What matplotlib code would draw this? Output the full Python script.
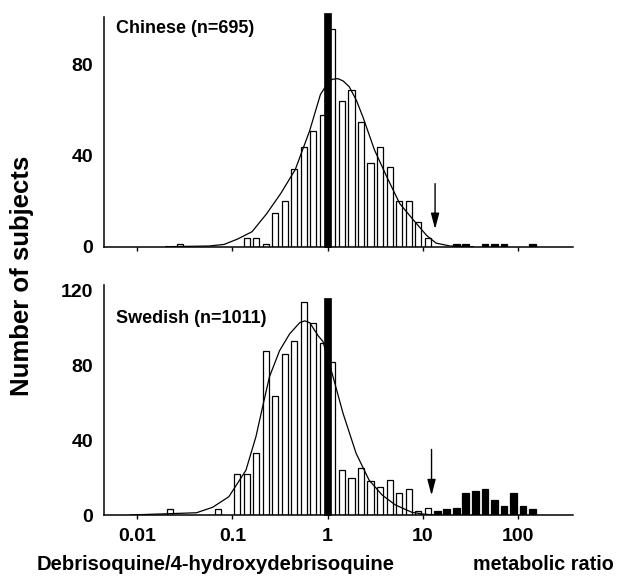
import numpy as np
import matplotlib.pyplot as plt

plt.rcParams['font.family'] = ['Liberation Sans', 'DejaVu Sans']
plt.rcParams['font.weight'] = 'bold'

# bins are 0.1 log10 units wide: bin k is centred on MR = 10**(0.1*k + 0.05)
chinese_k = [-16, -9, -8, -7, -6, -5, -4, -3, -2, -1, 0, 1, 2, 3, 4, 5, 6, 7, 8, 9, 10]
chinese_n = [1, 4, 4, 1, 15, 20, 34, 44, 51, 58, 96, 64, 69, 55, 37, 44, 35, 20, 20, 11, 4]
chinese_pm_k = [13, 14, 16, 17, 18, 21]
chinese_pm_n = [1, 1, 1, 1, 1, 1]
chinese_mode = 103  # black bar at MR = 1 (goes past the top)

swedish_k = [-17, -12, -10, -9, -8, -7, -6, -5, -4, -3, -2, -1, 0, 1, 2, 3, 4, 5, 6, 7, 8, 9, 10]
swedish_n = [3, 3, 22, 22, 33, 88, 64, 86, 93, 114, 103, 92, 82, 24, 20, 25, 18, 15, 19, 12, 14, 2, 4]
swedish_pm_k = [11, 12, 13, 14, 15, 16, 17, 18, 19, 20, 21]
swedish_pm_n = [2, 3, 4, 12, 13, 14, 8, 5, 12, 5, 3]
swedish_mode = 116

# fitted curves
chinese_curve_mr = [0.02, 0.028, 0.057, 0.082, 0.114, 0.161, 0.229, 0.323, 0.458, 0.647,
                    0.84, 1.0, 1.12, 1.28, 1.45, 1.68, 2.0, 2.35, 3.1, 4.15, 5.7, 7.96,
                    10.9, 13.7, 19.2, 33.7]
chinese_curve_n = [0, 0.1, 0.3, 1, 3.4, 6.6, 14.5, 23.5, 34, 51,
                   67, 72, 73.7, 74, 73, 70.5, 64.5, 57, 42.6, 31, 19, 11.7,
                   5, 1.6, 0.3, 0]

swedish_curve_mr = [0.0085, 0.042, 0.062, 0.092, 0.139, 0.177, 0.208, 0.245, 0.313, 0.399,
                    0.509, 0.575, 0.649, 0.795, 0.892, 1.14, 1.45, 1.99, 2.72, 3.73, 5.13,
                    7.6, 10.4, 14.3]
swedish_curve_n = [0, 1.2, 4.1, 9.8, 24, 42, 58, 74, 88, 97,
                   103, 104, 103, 96, 93, 74, 54.5, 33, 18.7, 10.7, 5.4,
                   1.5, 0.4, 0]

antimode_chinese = 13.4
antimode_swedish = 12.3

xticks = [0.01, 0.1, 1, 10, 100]
xtick_labels = ['0.01', '0.1', '1', '10', '100']

W, H = 618, 579
fig = plt.figure(figsize=(W / 100, H / 100), dpi=100)

ax_left = 104.3 / W
ax_w = (573 - 104.3) / W
ax1 = fig.add_axes([ax_left, (H - 246.7) / H, ax_w, (246.7 - 17.3) / H])
ax2 = fig.add_axes([ax_left, (H - 515) / H, ax_w, (515 - 285) / H])


def log_bars(ax, ks, ns, w, color, z):
    c = 0.1 * np.array(ks) + 0.05
    lo = 10 ** (c - w / 2)
    hi = 10 ** (c + w / 2)
    ax.bar(lo, ns, width=hi - lo, align='edge', facecolor=color,
           edgecolor='black', linewidth=0.9, zorder=z)


def mode_bar(ax, h, w=0.072):
    lo = 10 ** (-w / 2)
    hi = 10 ** (w / 2)
    ax.bar(lo, h, width=hi - lo, align='edge', facecolor='black',
           edgecolor='black', linewidth=0.5, zorder=5, clip_on=False)


panels = [
    (ax1, chinese_k, chinese_n, chinese_pm_k, chinese_pm_n, chinese_mode,
     chinese_curve_mr, chinese_curve_n, antimode_chinese, (29, 6.5), 101),
    (ax2, swedish_k, swedish_n, swedish_pm_k, swedish_pm_n, swedish_mode,
     swedish_curve_mr, swedish_curve_n, antimode_swedish, (36.6, 9), 123.2),
]

for ax, k, n, pk, pn, mode, cmr, cn, am, arr, ytop in panels:
    log_bars(ax, k, n, 0.064, 'white', 2)
    log_bars(ax, pk, pn, 0.071, 'black', 2)
    ax.plot(cmr, cn, color='black', linewidth=0.9, zorder=4)
    mode_bar(ax, mode)
    ax.annotate('', xy=(am, arr[1]), xytext=(am, arr[0]),
                arrowprops=dict(arrowstyle='-|>,head_length=0.95,head_width=0.25',
                                color='black', linewidth=1.0, mutation_scale=10))
    ax.set_xscale('log')
    ax.set_xlim(10 ** -2.343, 10 ** 2.574)
    ax.set_ylim(0, ytop)
    ax.set_xticks(xticks)
    ax.minorticks_off()
    ax.spines['top'].set_visible(False)
    ax.spines['right'].set_visible(False)
    ax.spines['left'].set_linewidth(1.1)
    ax.spines['bottom'].set_linewidth(1.1)
    ax.tick_params(axis='x', direction='out', length=3.2, width=1.0, pad=6, labelsize=14)
    ax.tick_params(axis='y', length=0, pad=8, labelsize=14)

ax1.set_xticklabels([])
ax1.set_yticks([0, 40, 80])
ax2.set_xticklabels(xtick_labels)
ax2.set_yticks([0, 40, 80, 120])

fig.text(116 / W, 1 - 33.3 / H, 'Chinese (n=695)', fontsize=13, va='baseline', ha='left')
fig.text(116 / W, 1 - 322.7 / H, 'Swedish (n=1011)', fontsize=13, va='baseline', ha='left')

fig.text(22 / W, 1 - 276 / H, 'Number of subjects', fontsize=18.5, rotation=90,
         ha='center', va='center')
fig.text(37 / W, 1 - 570 / H, 'Debrisoquine/4-hydroxydebrisoquine', fontsize=14.6,
         ha='left', va='baseline')
fig.text(473 / W, 1 - 570 / H, 'metabolic ratio', fontsize=14.2, ha='left', va='baseline')

fig.savefig('out.png', dpi=100)
